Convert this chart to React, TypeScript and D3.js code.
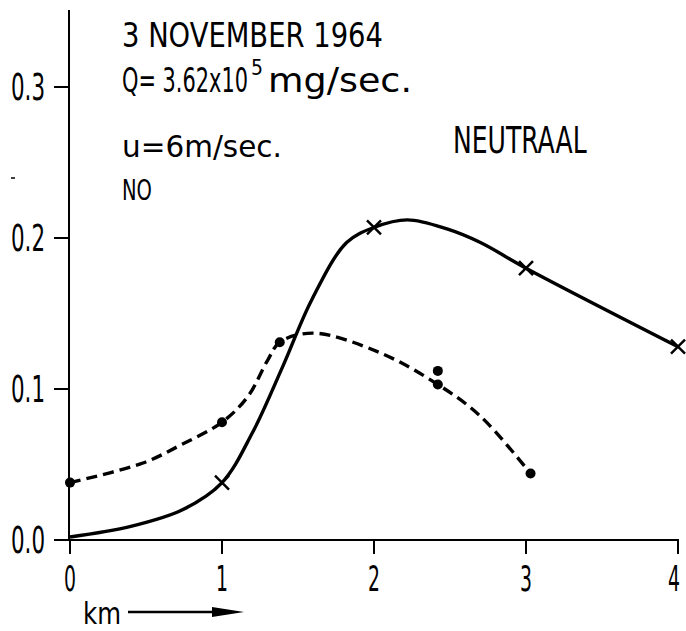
import React, { useLayoutEffect, useRef, useState } from "react";
import * as d3 from "d3";

const xTicks = [0, 1, 2, 3, 4];
const xTickLabels = ["0", "1", "2", "3", "4"];
const yTicks = [0, 0.1, 0.2, 0.3];
const yTickLabels = ["0.0", "0.1", "0.2", "0.3"];

// solid curve and its X markers
const solidCurve: [number, number][] = [
  [0, 0.002], [0.4, 0.009], [0.74, 0.02], [1.0, 0.038], [1.2, 0.071],
  [1.4, 0.115], [1.59, 0.159], [1.82, 0.197], [2.0, 0.207], [2.22, 0.212],
  [2.48, 0.206], [2.7, 0.197], [3.0, 0.18], [4.0, 0.128],
];
const crossPoints: [number, number][] = [[1, 0.038], [2, 0.207], [3, 0.18], [4, 0.128]];

// dashed curve and its dot markers
const dashedCurve: [number, number][] = [
  [0, 0.038], [0.48, 0.051], [0.73, 0.063], [1.0, 0.078], [1.17, 0.095], [1.3, 0.119],
  [1.38, 0.131], [1.6, 0.137], [2.04, 0.124], [2.42, 0.103], [2.7, 0.082], [3.03, 0.044],
];
const dotPoints: [number, number][] = [
  [0, 0.038], [1, 0.078], [1.38, 0.131], [2.42, 0.112], [2.42, 0.103], [3.03, 0.044],
];

const FONT = "'DejaVu Sans Condensed', 'DejaVu Sans', sans-serif";

type FTProps = {
  x: number;
  y: number;
  w: number;
  fs: number;
  anchor?: "start" | "middle" | "end";
  children: string;
};

function FitText({ x, y, w, fs, anchor = "start", children }: FTProps) {
  const ref = useRef<SVGTextElement>(null);
  const [sx, setSx] = useState(1);
  useLayoutEffect(() => {
    if (ref.current) {
      const bw = ref.current.getBBox().width;
      if (bw > 0) setSx(w / bw);
    }
  }, [w, children, fs]);
  return (
    <text
      ref={ref}
      transform={`translate(${x},${y}) scale(${sx},1)`}
      fontSize={fs}
      textAnchor={anchor}
      fill="#000"
    >
      {children}
    </text>
  );
}

export default function App() {
  const x = d3.scaleLinear().domain([0, 4]).range([70, 678]);
  const y = d3.scaleLinear().domain([0, 0.3]).range([540, 87]);
  const line = d3
    .line<[number, number]>()
    .x((d) => x(d[0]))
    .y((d) => y(d[1]))
    .curve(d3.curveCatmullRom.alpha(0.5));

  return (
    <svg
      width={686}
      height={631}
      style={{ position: "absolute", left: 0, top: 0, background: "#fff" }}
      fontFamily={FONT}
    >
      <rect x={0} y={0} width={686} height={631} fill="#fff" />
      {/* axes */}
      <line x1={x(0) - 1} x2={x(0) - 1} y1={10} y2={y(0)} stroke="#000" strokeWidth={2} />
      <line x1={x(0) - 1} x2={x(4) + 1} y1={y(0)} y2={y(0)} stroke="#000" strokeWidth={2} />
      {yTicks.map((t, i) => (
        <g key={"y" + i}>
          <line x1={x(0) - 16} x2={x(0) - 1} y1={y(t)} y2={y(t)} stroke="#000" strokeWidth={2} />
          <FitText x={45} y={y(t) + 13} w={34} fs={38} anchor="end">
            {yTickLabels[i]}
          </FitText>
        </g>
      ))}
      {xTicks.map((t, i) => (
        <g key={"x" + t}>
          <line x1={x(t)} x2={x(t)} y1={y(0)} y2={y(0) + 14} stroke="#000" strokeWidth={2} />
          <FitText x={x(t) + (i === 4 ? -4 : 0)} y={591} w={12} fs={35} anchor="middle">
            {xTickLabels[i]}
          </FitText>
        </g>
      ))}
      {/* km arrow */}
      <FitText x={83} y={624} w={38} fs={30}>km</FitText>
      <line x1={128} x2={220} y1={612} y2={612} stroke="#000" strokeWidth={2.5} />
      <path d="M212,607 L244,612 L212,617 Z" fill="#000" />
      <line x1={11} x2={15} y1={178} y2={178} stroke="#000" strokeWidth={1.5} />

      {/* annotation */}
      <FitText x={122} y={47} w={261} fs={33}>3 NOVEMBER 1964</FitText>
      <FitText x={122} y={92} w={126} fs={34}>Q= 3.62x10</FitText>
      <FitText x={251} y={75} w={12} fs={22}>5</FitText>
      <FitText x={268} y={92} w={144} fs={34}>mg/sec.</FitText>
      <FitText x={122} y={157} w={160} fs={31}>u=6m/sec.</FitText>
      <FitText x={122} y={200} w={30} fs={29}>NO</FitText>
      <FitText x={453} y={153} w={134} fs={37}>NEUTRAAL</FitText>

      {/* curves */}
      <path d={line(solidCurve) || ""} fill="none" stroke="#000" strokeWidth={3.4} />
      <path d={line(dashedCurve) || ""} fill="none" stroke="#000" strokeWidth={3.4} strokeDasharray="11 6" />
      {crossPoints.map((p, i) => (
        <g key={"c" + i} transform={`translate(${x(p[0])},${y(p[1])})`} stroke="#000" strokeWidth={2.5}>
          <line x1={-7} y1={-7} x2={7} y2={7} />
          <line x1={-7} y1={7} x2={7} y2={-7} />
        </g>
      ))}
      {dotPoints.map((p, i) => (
        <circle key={"d" + i} cx={x(p[0])} cy={y(p[1])} r={5} fill="#000" />
      ))}
    </svg>
  );
}
